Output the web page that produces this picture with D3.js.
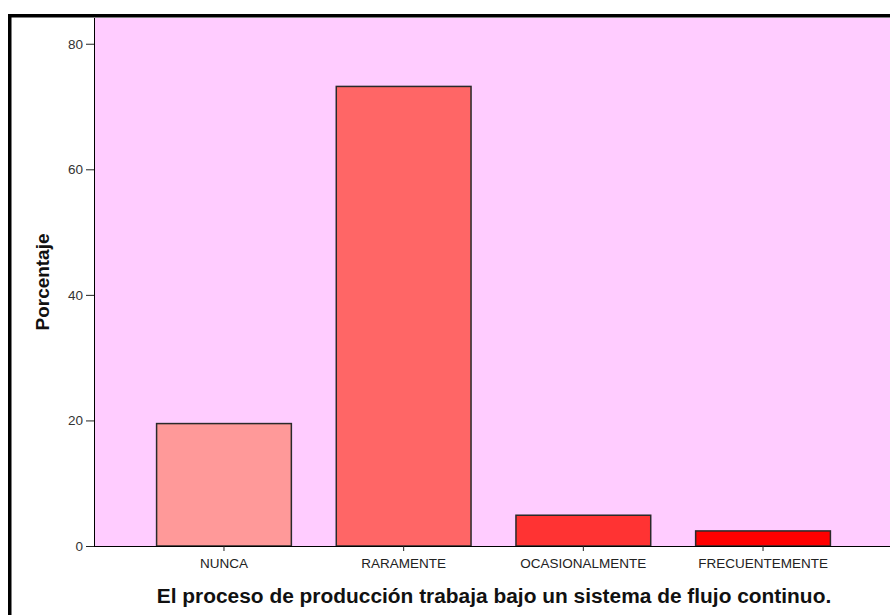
<!DOCTYPE html>
<html>
<head>
<meta charset="utf-8">
<script src="https://cdn.jsdelivr.net/npm/d3@7"></script>
<style>
	body { margin: 0; background: #fff; }
	text { font-family: "Liberation Sans", Arial, sans-serif; }
</style>
</head>
<body>
<div class="chart"></div>
<script>
const categories = ["NUNCA", "RARAMENTE", "OCASIONALMENTE", "FRECUENTEMENTE"];
const percentages = [19.5, 73.2, 4.9, 2.4];
const barColors = ["#ff9999", "#ff6666", "#ff3333", "#ff0000"];
const yTicks = [0, 20, 40, 60, 80];

var w = 890,
	h = 615,
	plotLeft = 94,
	plotTop = 18,
	plotBottom = 546,
	plotRight = 890;

var svg = d3.select(".chart").append("svg").attr("width", w).attr("height", h);

// outer frame
svg.append("rect")
	.attr("x", 9.75).attr("y", 15.75)
	.attr("width", 900).attr("height", 620)
	.attr("fill", "#fff")
	.attr("stroke", "#000")
	.attr("stroke-width", 3.5);

const xScale = d3.scaleBand()
	.domain(categories)
	.range([plotLeft + 1.5, plotRight + 1.5])
	.paddingInner(0.25)
	.paddingOuter(0.34);

const yScale = d3.scaleLinear().domain([0, 84.1]).range([plotBottom, plotTop]);

// plot background
svg.append("rect")
	.attr("x", plotLeft).attr("y", plotTop)
	.attr("width", plotRight - plotLeft).attr("height", plotBottom - plotTop)
	.attr("fill", "#ffccff");

svg.selectAll("rect.bar")
	.data(percentages)
	.enter()
	.append("rect")
	.attr("class", "bar")
	.attr("x", (d, i) => xScale(categories[i]))
	.attr("y", (d) => yScale(d))
	.attr("width", xScale.bandwidth())
	.attr("height", (d) => plotBottom - yScale(d))
	.attr("fill", (d, i) => barColors[i])
	.attr("stroke", "#2a2a2a")
	.attr("stroke-width", 1.5);

const yAxis = d3.axisLeft(yScale).tickValues(yTicks).tickSize(8).tickPadding(3).tickSizeOuter(0);
const xAxis = d3.axisBottom(xScale).tickSize(5).tickPadding(7).tickSizeOuter(0);

const gy = svg.append("g")
	.attr("transform", "translate(" + plotLeft + ",0)")
	.call(yAxis);
gy.select(".domain").attr("stroke", "#000").attr("d", "M0.5," + plotTop + "V" + plotBottom);
gy.selectAll("text").attr("font-size", 13.5).attr("fill", "#333").attr("font-family", "Liberation Sans, Arial, sans-serif");
gy.selectAll("line").attr("stroke", "#222");

const gx = svg.append("g")
	.attr("transform", "translate(0," + plotBottom + ")")
	.call(xAxis);
gx.select(".domain").attr("stroke", "#000").attr("d", "M" + plotLeft + ",0.5H" + plotRight);
gx.selectAll("text").attr("font-size", 13.5).attr("fill", "#222").attr("font-family", "Liberation Sans, Arial, sans-serif");
gx.selectAll("line").attr("stroke", "#222");

// fit a bold title to the width it takes in the picture
function fitText(sel, target) {
	const len = sel.node().getComputedTextLength();
	const fs = parseFloat(sel.attr("font-size"));
	sel.attr("font-size", fs * target / len);
}

const yTitle = svg.append("text")
	.attr("transform", "translate(49,282) rotate(-90)")
	.attr("text-anchor", "middle")
	.attr("font-family", "DejaVu Sans, Verdana, sans-serif")
	.attr("font-size", 15)
	.attr("font-weight", "bold")
	.attr("fill", "#111")
	.text("Porcentaje");
fitText(yTitle, 97);

const xTitle = svg.append("text")
	.attr("x", 494)
	.attr("y", 603)
	.attr("text-anchor", "middle")
	.attr("font-family", "DejaVu Sans, Verdana, sans-serif")
	.attr("font-size", 15)
	.attr("font-weight", "bold")
	.attr("fill", "#111")
	.text("El proceso de producción trabaja bajo un sistema de flujo continuo.");
fitText(xTitle, 675);
</script>
</body>
</html>
